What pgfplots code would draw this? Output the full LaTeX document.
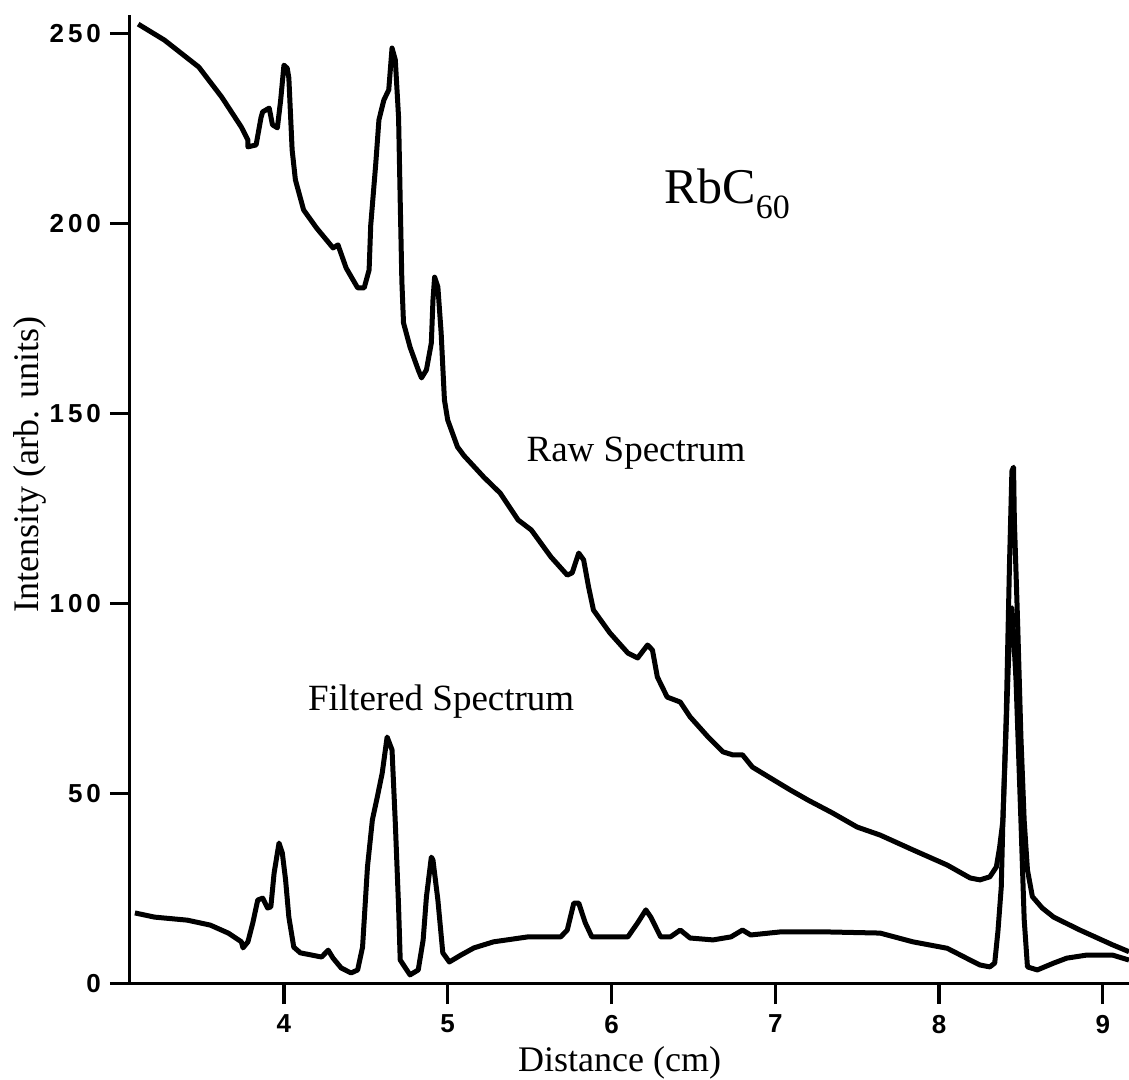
\documentclass[border=0pt]{standalone}
\usepackage{fontspec}
\setmainfont{Liberation Serif}
\newfontfamily\tickfont[LetterSpace=15]{Liberation Sans}
\usepackage{pgfplots}
\pgfplotsset{compat=1.18}
\begin{document}
\begin{tikzpicture}
\path[use as bounding box] (-65pt,-48pt) rectangle (499.5pt,492pt);
\begin{axis}[
  scale only axis,
  width=499.5pt, height=484.5pt,
  xmin=3.06, xmax=9.16, ymin=0, ymax=255,
  axis lines=left,
  axis line style={line width=1.5pt,-},
  every outer x axis line/.append style={-},
  every outer y axis line/.append style={-},
  tick pos=left,
  xtick={4,5,6,7,8,9}, ytick={0,50,100,150,200,250},
  tick align=outside, major tick length=10pt,
  xtick align=outside,
  xtick style={line width=1.5pt,black},
  ytick style={line width=1.5pt,black},
  minor tick num=0,
  ticklabel style={font=\tickfont\bfseries\fontsize{13}{13}\selectfont},
  xticklabel style={yshift=-2pt},
  yticklabel style={xshift=-1pt},
  /pgf/number format/assume math mode=true,
  clip=false,
]
\pgfplotsinvokeforeach{4,5,6,7,8,9}{\draw[line width=1.6pt, black] (axis cs:#1,0) -- ++(0pt,-10pt);}
\addplot[black, line width=2.5pt, line join=round, mark=none] coordinates {
(3.11,252.6) (3.27,248.4) (3.48,241.3) (3.62,233.4) (3.74,225.5) (3.78,222.1) (3.78,220.3)
(3.83,220.8) (3.86,228) (3.87,229.5) (3.91,230.5) (3.93,226.1) (3.96,225.3) (3.98,232.6)
(4.00,241.8) (4.02,241) (4.03,238.4) (4.05,219.5) (4.07,211.6) (4.12,203.7) (4.20,198.9)
(4.30,193.7) (4.33,194.5) (4.38,188.4) (4.45,183.2) (4.49,183.2) (4.52,187.9) (4.53,199.7)
(4.56,215.5) (4.58,227.4) (4.61,232.6) (4.64,235.3) (4.66,246.3) (4.68,243.2) (4.70,228)
(4.71,206) (4.72,185) (4.73,174) (4.77,167.6) (4.82,161.6) (4.84,159.5) (4.87,161.6)
(4.90,168.7) (4.91,180) (4.92,186) (4.94,183.4) (4.96,171.3) (4.97,162.4) (4.98,153.7)
(5.00,148.4) (5.06,141.3) (5.10,139) (5.22,133.4) (5.32,129.2) (5.43,122.1) (5.51,119.5)
(5.63,112.4) (5.73,107.6) (5.76,108.2) (5.80,113.4) (5.83,111.6) (5.86,104.5) (5.89,98.4)
(5.99,92.4) (6.10,87.1) (6.16,85.8) (6.22,89.2) (6.25,87.9) (6.28,80.8) (6.34,75.5)
(6.42,74.2) (6.48,70.3) (6.59,65) (6.68,61.1) (6.74,60.3) (6.80,60.3) (6.86,57.1)
(6.99,53.7) (7.09,51.1) (7.20,48.4) (7.35,45) (7.50,41.3) (7.64,39.2) (7.84,35.3)
(8.05,31.3) (8.19,27.9) (8.25,27.4) (8.31,28.2) (8.35,30.8) (8.37,36) (8.39,43)
(8.41,70) (8.43,110) (8.445,135) (8.455,136) (8.46,122) (8.48,95) (8.50,65) (8.52,43)
(8.54,30) (8.57,23) (8.63,20) (8.70,17.6) (8.86,14.2) (9.06,10.3) (9.16,8.5)
};
\addplot[black, line width=2.5pt, line join=round, mark=none] coordinates {
(3.09,18.7) (3.21,17.6) (3.41,16.8) (3.55,15.5) (3.66,13.4) (3.74,11.1) (3.75,9.5)
(3.78,11.1) (3.81,16.1) (3.84,22.1) (3.87,22.6) (3.90,20) (3.92,20.3) (3.94,29.2)
(3.97,37.1) (3.99,34.5) (4.01,27.4) (4.03,17.6) (4.06,9.7) (4.10,8.2) (4.23,7.1)
(4.27,8.9) (4.30,6.8) (4.35,4.2) (4.41,2.9) (4.45,3.7) (4.48,9.7) (4.51,30.8)
(4.54,43.2) (4.57,49.2) (4.60,55.5) (4.63,65) (4.66,61.6) (4.68,42.4) (4.70,20.3)
(4.71,6.3) (4.77,2.4) (4.82,3.7) (4.85,11.6) (4.87,22.9) (4.90,33.4) (4.91,32.6)
(4.94,22.1) (4.97,8.2) (5.01,5.8) (5.08,7.6) (5.16,9.5) (5.28,11.1) (5.49,12.4)
(5.69,12.4) (5.73,14.2) (5.77,21.3) (5.80,21.3) (5.84,16.1) (5.88,12.4) (6.10,12.4)
(6.16,16.1) (6.21,19.5) (6.24,17.6) (6.30,12.4) (6.36,12.4) (6.42,14.2) (6.48,12.1)
(6.62,11.6) (6.73,12.4) (6.80,14.2) (6.85,12.9) (7.03,13.7) (7.32,13.7) (7.64,13.4)
(7.84,11.1) (8.05,9.4) (8.19,6.3) (8.25,5) (8.31,4.5) (8.34,5.5) (8.36,14) (8.38,25.5)
(8.39,43) (8.42,80) (8.435,98) (8.445,99) (8.455,92) (8.47,80) (8.50,43) (8.52,17)
(8.54,4.5) (8.60,3.7) (8.70,5.5) (8.78,6.8) (8.90,7.6) (9.06,7.6) (9.16,6.3)
};
\node[anchor=base, font=\fontsize{18.5}{18.5}\selectfont] at (axis cs:6.15,137.4) {Raw Spectrum};
\node[anchor=base, font=\fontsize{18.5}{18.5}\selectfont] at (axis cs:4.96,72) {Filtered Spectrum};
\node[anchor=base west, inner sep=0pt, font=\fontsize{25}{25}\selectfont] at (axis cs:6.32,205.5) {RbC\raisebox{-0.3em}{\fontsize{17}{17}\selectfont 60}};
\node[anchor=base, inner sep=0pt, font=\fontsize{18}{18}\selectfont] at (axis cs:6.05,-23) {Distance (cm)};
\node[rotate=90, anchor=base, font=\fontsize{18}{18}\selectfont] at (axis cs:2.5,136.7) {Intensity (arb. units)};
\end{axis}
\end{tikzpicture}
\end{document}
